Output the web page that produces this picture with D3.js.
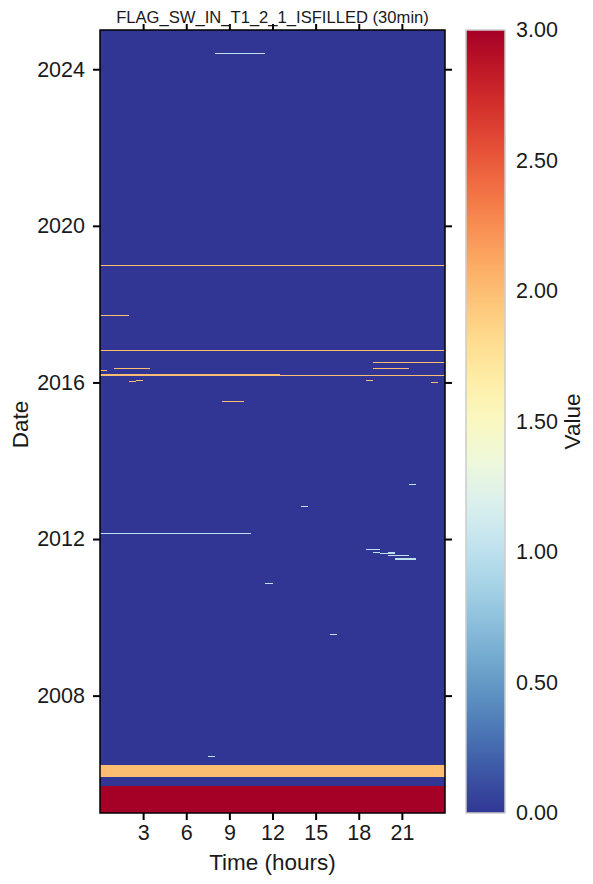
<!DOCTYPE html>
<html>
<head>
<meta charset="utf-8">
<script src="https://cdn.jsdelivr.net/npm/d3@7"></script>
<style>
  body { margin: 0; background: #fff; }
  svg text { font-family: "Liberation Sans", Arial, sans-serif; fill: #1a1a1a; }
</style>
</head>
<body>
<script>
// flagged periods: start day, end day (exclusive), hour from, hour to, flag value
const segStart = ["2005-01-01","2005-11-29","2006-06-20","2009-07-28","2010-11-16","2011-06-21","2011-08-04","2011-08-10","2011-08-19","2011-09-01","2011-09-29","2012-02-25","2012-11-03","2013-05-27","2015-07-10","2016-01-04","2016-01-13","2016-01-22","2016-01-22","2016-03-08","2016-03-12","2016-04-24","2016-05-13","2016-05-13","2016-07-08","2016-10-28","2017-09-19","2018-12-30","2024-06-01"];
const segEnd   = ["2005-09-13","2006-03-28","2006-06-21","2009-07-29","2010-11-17","2011-07-10","2011-08-05","2011-08-23","2011-09-04","2011-09-02","2011-09-30","2012-02-26","2012-11-04","2013-05-28","2015-07-11","2016-01-05","2016-01-14","2016-01-23","2016-01-23","2016-03-09","2016-03-24","2016-04-25","2016-05-14","2016-05-14","2016-07-09","2016-10-29","2017-09-20","2018-12-31","2024-06-02"];
const hourFrom = [0, 0, 7.5, 16.0, 11.5, 20.5, 20.0, 19.5, 20.0, 19.0, 18.5, 0, 14.0, 21.5, 8.5, 23.0, 2.0, 2.5, 18.5, 0, 0, 0, 1.0, 19.0, 19.0, 0, 0, 0, 8.0];
const hourTo   = [24, 24, 8.0, 16.5, 12.0, 22.0, 21.5, 20.0, 20.5, 19.5, 19.5, 10.5, 14.5, 22.0, 10.0, 23.5, 2.5, 3.0, 19.0, 24, 12.5, 0.5, 3.5, 21.5, 24, 24, 2.0, 24, 11.5];
const segValue = [3, 2, 1, 1, 1, 1, 1, 1, 1, 1, 1, 1, 1, 1, 2, 2, 2, 2, 2, 2, 2, 2, 2, 2, 2, 2, 2, 2, 1];

const xTicks = [3, 6, 9, 12, 15, 18, 21];
const yTickYears = [2008, 2012, 2016, 2020, 2024];
const cbarTicks = [0, 0.5, 1, 1.5, 2, 2.5, 3];

const w = 593, h = 884;
const pLeft = 100, pRight = 445, pTop = 30, pBottom = 813;
const parse = d3.timeParse("%Y-%m-%d");

const svg = d3.select("body").append("svg").attr("width", w).attr("height", h);

const xScale = d3.scaleLinear().domain([0, 24]).range([pLeft, pRight]);
const yScale = d3.scaleTime().domain([new Date(2005, 0, 1), new Date(2025, 0, 1)]).range([pBottom, pTop]);
const color = v => d3.interpolateRdYlBu(1 - v / 3);

// background (flag 0)
svg.append("rect")
    .attr("x", xScale(0)).attr("y", yScale(new Date(2025, 0, 1)))
    .attr("width", xScale(24) - xScale(0))
    .attr("height", yScale(new Date(2005, 0, 1)) - yScale(new Date(2025, 0, 1)))
    .attr("fill", color(0));

const segs = segStart.map((s, i) => ({
    s: parse(s), e: parse(segEnd[i]), h0: hourFrom[i], h1: hourTo[i], v: segValue[i]
}));

svg.append("g").selectAll("rect")
    .data(segs)
    .enter()
    .append("rect")
    .attr("x", d => xScale(d.h0))
    .attr("width", d => xScale(d.h1) - xScale(d.h0))
    .attr("y", d => yScale(d.e))
    .attr("height", d => Math.max(1, yScale(d.s) - yScale(d.e)))
    .attr("fill", d => color(d.v))
    .attr("shape-rendering", "crispEdges");

// frame
svg.append("rect")
    .attr("x", pLeft).attr("y", pTop)
    .attr("width", pRight - pLeft).attr("height", pBottom - pTop)
    .attr("fill", "none").attr("stroke", "#000").attr("stroke-width", 1.5);

// axes
const xAxis = d3.axisBottom(xScale).tickValues(xTicks).tickSize(7).tickPadding(5).tickFormat(d3.format("d"));
svg.append("g").attr("transform", `translate(0,${pBottom})`).call(xAxis);
svg.append("g").attr("transform", `translate(0,${pTop})`)
    .call(d3.axisTop(xScale).tickValues(xTicks).tickSize(6).tickFormat(""));

const yVals = yTickYears.map(y => new Date(y, 0, 1));
svg.append("g").attr("transform", `translate(${pLeft},0)`)
    .call(d3.axisLeft(yScale).tickValues(yVals).tickSize(7).tickPadding(8).tickFormat(d3.timeFormat("%Y")));
svg.append("g").attr("transform", `translate(${pRight},0)`)
    .call(d3.axisRight(yScale).tickValues(yVals).tickSize(7).tickFormat(""));

svg.selectAll(".domain").remove();
svg.selectAll(".tick line").attr("stroke", "#000").attr("stroke-width", 2);
svg.selectAll(".tick text").style("font-size", "21.5px").attr("fill", "#1a1a1a");

// titles
svg.append("text")
    .attr("x", (pLeft + pRight) / 2).attr("y", 23)
    .attr("text-anchor", "middle")
    .style("font-size", "16.6px")
    .text("FLAG_SW_IN_T1_2_1_ISFILLED (30min)");

svg.append("text")
    .attr("x", (pLeft + pRight) / 2).attr("y", 870)
    .attr("text-anchor", "middle")
    .style("font-size", "22.5px")
    .text("Time (hours)");

svg.append("text")
    .attr("transform", `translate(28,${(pTop + pBottom) / 2 + 3}) rotate(-90)`)
    .attr("text-anchor", "middle")
    .style("font-size", "22.5px")
    .text("Date");

// colorbar
const cbX = 466, cbW = 39;
const cScale = d3.scaleLinear().domain([0, 3]).range([pBottom, pTop]);
const grad = svg.append("defs").append("linearGradient")
    .attr("id", "cbar").attr("x1", 0).attr("y1", 1).attr("x2", 0).attr("y2", 0);
d3.range(0, 1.0001, 0.05).forEach(t => {
    grad.append("stop").attr("offset", t).attr("stop-color", color(t * 3));
});
svg.append("rect")
    .attr("x", cbX).attr("y", cScale(3))
    .attr("width", cbW).attr("height", cScale(0) - cScale(3))
    .attr("fill", "url(#cbar)")
    .attr("stroke", "#ccc").attr("stroke-width", 1.5);

svg.append("g").attr("transform", `translate(${cbX + cbW},0)`)
    .call(d3.axisRight(cScale).tickValues(cbarTicks).tickSize(0).tickPadding(11).tickFormat(d3.format(".2f")))
    .call(g => g.select(".domain").remove())
    .selectAll("text").style("font-size", "21.5px").attr("fill", "#1a1a1a");

svg.append("text")
    .attr("transform", `translate(580,${(pTop + pBottom) / 2}) rotate(-90)`)
    .attr("text-anchor", "middle")
    .style("font-size", "22.5px")
    .text("Value");
</script>
</body>
</html>
